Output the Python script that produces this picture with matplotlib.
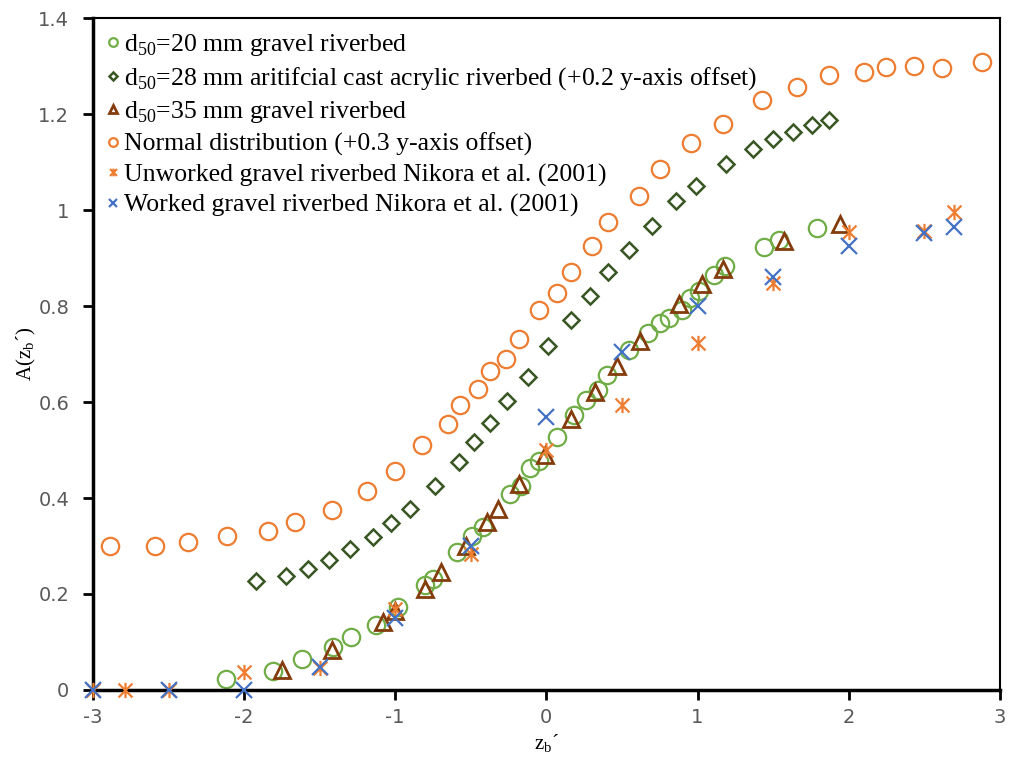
import matplotlib.pyplot as plt
from matplotlib.path import Path

# Datos
x_d20 = [-2.12, -1.81, -1.62, -1.41, -1.29, -1.13, -0.98, -0.80, -0.75, -0.59, -0.49, -0.42,
         -0.24, -0.17, -0.11, -0.05, 0.07, 0.18, 0.26, 0.34, 0.40, 0.55, 0.67, 0.75, 0.81,
         0.90, 0.95, 1.01, 1.11, 1.18, 1.44, 1.54, 1.79]
y_d20 = [0.022, 0.039, 0.064, 0.089, 0.110, 0.135, 0.173, 0.219, 0.231, 0.288, 0.321, 0.340,
         0.409, 0.426, 0.463, 0.478, 0.528, 0.572, 0.604, 0.624, 0.656, 0.708, 0.744, 0.765, 0.776,
         0.792, 0.817, 0.832, 0.865, 0.884, 0.922, 0.938, 0.963]

x_d28 = [-1.92, -1.72, -1.58, -1.44, -1.30, -1.15, -1.03, -0.90, -0.74, -0.58, -0.48, -0.37,
         -0.26, -0.12, 0.01, 0.16, 0.29, 0.41, 0.55, 0.70, 0.86, 0.99, 1.19, 1.37, 1.50,
         1.63, 1.76, 1.87]
y_d28 = [0.227, 0.237, 0.253, 0.270, 0.293, 0.319, 0.348, 0.378, 0.424, 0.476, 0.516, 0.556,
         0.603, 0.652, 0.717, 0.771, 0.821, 0.871, 0.917, 0.967, 1.018, 1.051, 1.095, 1.127, 1.148,
         1.163, 1.177, 1.187]

x_d35 = [-1.75, -1.42, -1.08, -1.00, -0.80, -0.70, -0.53, -0.39, -0.32, -0.18, -0.01, 0.16,
         0.32, 0.47, 0.62, 0.88, 1.03, 1.17, 1.57, 1.94]
y_d35 = [0.041, 0.083, 0.141, 0.164, 0.210, 0.246, 0.300, 0.350, 0.378, 0.430, 0.489, 0.564,
         0.620, 0.674, 0.727, 0.804, 0.846, 0.878, 0.936, 0.970]

x_normal = [-2.89, -2.59, -2.37, -2.11, -1.84, -1.66, -1.42, -1.19, -1.00, -0.82, -0.65, -0.57,
            -0.45, -0.37, -0.27, -0.18, -0.05, 0.07, 0.16, 0.30, 0.41, 0.61, 0.75, 0.96, 1.17,
            1.43, 1.66, 1.87, 2.10, 2.25, 2.43, 2.62, 2.88]
y_normal = [0.299, 0.299, 0.309, 0.321, 0.332, 0.349, 0.376, 0.415, 0.457, 0.511, 0.555, 0.593,
            0.627, 0.664, 0.690, 0.731, 0.792, 0.828, 0.871, 0.924, 0.974, 1.030, 1.085, 1.139, 1.179,
            1.229, 1.256, 1.281, 1.288, 1.297, 1.301, 1.295, 1.309]

x_unworked = [-3.0, -2.79, -2.5, -2.0, -1.5, -1.0, -0.5, 0.0, 0.5, 1.0, 1.5, 2.0, 2.5, 2.7]
y_unworked = [0.0, 0.0, 0.0, 0.037, 0.045, 0.168, 0.284, 0.500, 0.593, 0.722, 0.848, 0.955, 0.957, 0.995]

x_worked = [-3.0, -2.5, -2.0, -1.5, -1.0, -0.5, 0.0, 0.5, 1.0, 1.5, 2.0, 2.5, 2.7]
y_worked = [0.0, 0.0, 0.0, 0.047, 0.150, 0.300, 0.568, 0.704, 0.800, 0.861, 0.926, 0.953, 0.965]

etiquetas = ['d$_{\\mathregular{50}}$=20 mm gravel riverbed',
             'd$_{\\mathregular{50}}$=28 mm aritifcial cast acrylic riverbed (+0.2 y-axis offset)',
             'd$_{\\mathregular{50}}$=35 mm gravel riverbed',
             'Normal distribution (+0.3 y-axis offset)',
             'Unworked gravel riverbed Nikora et al. (2001)',
             'Worked gravel riverbed Nikora et al. (2001)']

naranja = '#ED7D31'
azul = '#4472C4'
verde = '#70AD47'
verde_osc = '#385723'
marron = '#843C0C'

# marcador tipo estrella de Excel: una X con una barra vertical
estrella = Path([(-1, -1), (1, 1), (-1, 1), (1, -1), (0, -1.1), (0, 1.1)],
                [Path.MOVETO, Path.LINETO, Path.MOVETO, Path.LINETO, Path.MOVETO, Path.LINETO])

fig = plt.figure(figsize=(10.15, 7.67), dpi=100)
ax = fig.add_axes([0.0916, 0.1004, 0.8934, 0.8761])

ax.plot(x_d20, y_d20, 'o', ls='none', mfc='none', mec=verde, mew=1.6, ms=12.5, label=etiquetas[0])
ax.plot(x_d28, y_d28, 'D', ls='none', mfc='none', mec=verde_osc, mew=1.8, ms=8, label=etiquetas[1])
ax.plot(x_d35, y_d35, '^', ls='none', mfc='none', mec=marron, mew=2.0, ms=11, label=etiquetas[2])
ax.plot(x_normal, y_normal, 'o', ls='none', mfc='none', mec=naranja, mew=1.6, ms=12.5, label=etiquetas[3])
ax.plot(x_unworked, y_unworked, marker=estrella, ls='none', mfc='none', mec=naranja, mew=1.6, ms=11,
        clip_on=False, zorder=4, label=etiquetas[4])
ax.plot(x_worked, y_worked, 'x', ls='none', mec=azul, mew=1.6, ms=11, clip_on=False, zorder=5,
        label=etiquetas[5])

ax.set_xlim(-3, 3)
ax.set_ylim(0, 1.4)
ax.set_xticks([-3, -2, -1, 0, 1, 2, 3])
ax.set_yticks([0, 0.2, 0.4, 0.6, 0.8, 1, 1.2, 1.4])
ax.set_xticklabels(['-3', '-2', '-1', '0', '1', '2', '3'])
ax.set_yticklabels(['0', '0.2', '0.4', '0.6', '0.8', '1', '1.2', '1.4'])
ax.tick_params(axis='both', direction='out', length=7, width=2, labelsize=14,
               labelcolor='#595959')
ax.tick_params(axis='x', pad=6)
ax.tick_params(axis='y', pad=10)
for lado in ['left', 'bottom']:
    ax.spines[lado].set_linewidth(2.5)
for lado in ['top', 'right']:
    ax.spines[lado].set_linewidth(1.5)

ax.set_xlabel('z$_{\\mathregular{b}}$\u00b4', fontsize=15, family='Liberation Serif', labelpad=4)
ax.set_ylabel('A(z$_{\\mathregular{b}}$\u00b4)', fontsize=15, family='Liberation Serif', labelpad=0)

ax.legend(loc='upper left', bbox_to_anchor=(0.0, 1.0), frameon=False, markerscale=0.5,
          handlelength=0.45, handletextpad=0.2, labelspacing=0.28, borderaxespad=0.1,
          borderpad=0.45, prop={'family': 'Liberation Serif', 'size': 18.5})

plt.savefig('out.png', dpi=100)
